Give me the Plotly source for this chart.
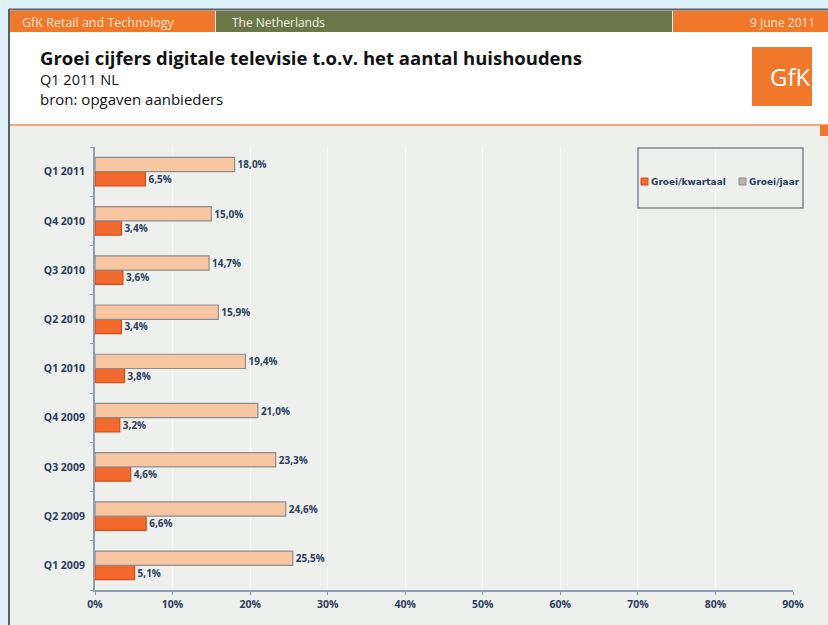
import plotly.graph_objects as go

# Quarterly vs. yearly growth of digital TV (share of households)
quarters = ["Q1 2009", "Q2 2009", "Q3 2009", "Q4 2009",
            "Q1 2010", "Q2 2010", "Q3 2010", "Q4 2010", "Q1 2011"]
groei_kwartaal = [5.1, 6.6, 4.6, 3.2, 3.8, 3.4, 3.6, 3.4, 6.5]
groei_jaar = [25.5, 24.6, 23.3, 21.0, 19.4, 15.9, 14.7, 15.0, 18.0]
x_ticks = [0, 10, 20, 30, 40, 50, 60, 70, 80, 90]
x_tick_labels = [f"<b>{v}%</b>" for v in x_ticks]

W, H = 828, 625
NAVY = "#2b3d5b"
ORANGE = "#f0782a"
DARK_BAR = "#f26a2c"
LIGHT_BAR = "#f9c6a3"
FONT = "Open Sans"
LEGEND_FONT = "DejaVu Sans"


def px_x(v):
    return v / W


def px_y(v):
    return 1 - v / H


fig = go.Figure()
fig.add_trace(go.Bar(
    y=quarters, x=groei_kwartaal, orientation="h", name="Groei/kwartaal",
    marker=dict(color=DARK_BAR, line=dict(color="#d84a18", width=1.2)),
    texttemplate="<b>%{x:.1f}%</b>", textposition="outside",
    textfont=dict(family=FONT, size=10, color=NAVY), cliponaxis=False,
))
fig.add_trace(go.Bar(
    y=quarters, x=groei_jaar, orientation="h", name="Groei/jaar",
    marker=dict(color=LIGHT_BAR, line=dict(color="#8c8c8c", width=1.2)),
    texttemplate="<b>%{x:.1f}%</b>", textposition="outside",
    textfont=dict(family=FONT, size=10, color=NAVY), cliponaxis=False,
))

shapes = [
    # page backgrounds
    dict(type="rect", xref="paper", yref="paper", x0=0, x1=1, y0=0, y1=1,
         fillcolor="#dff1f9", line_width=0, layer="below"),
    dict(type="rect", xref="paper", yref="paper", x0=px_x(9), x1=1,
         y0=0, y1=px_y(9), fillcolor="#eef0ee", line_width=0, layer="below"),
    dict(type="rect", xref="paper", yref="paper", x0=px_x(9), x1=1,
         y0=px_y(124), y1=px_y(32), fillcolor="#ffffff", line_width=0, layer="below"),
    # top bar
    dict(type="rect", xref="paper", yref="paper", x0=px_x(9), x1=px_x(215),
         y0=px_y(32), y1=px_y(11), fillcolor=ORANGE, line_width=0, layer="below"),
    dict(type="rect", xref="paper", yref="paper", x0=px_x(216), x1=px_x(672),
         y0=px_y(32), y1=px_y(11), fillcolor="#6b7748", line_width=0, layer="below"),
    dict(type="rect", xref="paper", yref="paper", x0=px_x(673), x1=1,
         y0=px_y(32), y1=px_y(11), fillcolor=ORANGE, line_width=0, layer="below"),
    # frame lines
    dict(type="line", xref="paper", yref="paper", x0=px_x(9), x1=1,
         y0=px_y(9.5), y1=px_y(9.5), line=dict(color="#5a5f64", width=2)),
    dict(type="line", xref="paper", yref="paper", x0=px_x(9), x1=px_x(9),
         y0=0, y1=px_y(9), line=dict(color="#5a5f64", width=2)),
    # header separator
    dict(type="line", xref="paper", yref="paper", x0=px_x(10), x1=1,
         y0=px_y(125), y1=px_y(125), line=dict(color="#f3a878", width=2)),
    dict(type="rect", xref="paper", yref="paper", x0=px_x(820), x1=1,
         y0=px_y(136), y1=px_y(125), fillcolor=ORANGE, line_width=0),
    # logo
    dict(type="rect", xref="paper", yref="paper", x0=px_x(752), x1=px_x(812),
         y0=px_y(106), y1=px_y(47), fillcolor=ORANGE, line_width=0),
    # legend box
    dict(type="rect", xref="paper", yref="paper", x0=px_x(638), x1=px_x(803),
         y0=px_y(208), y1=px_y(148), fillcolor="rgba(0,0,0,0)",
         line=dict(color="#7d878e", width=1.5)),
    # legend swatches
    dict(type="rect", xref="paper", yref="paper", x0=px_x(641), x1=px_x(648),
         y0=px_y(185), y1=px_y(178), fillcolor=DARK_BAR,
         line=dict(color="#d84a18", width=1)),
    dict(type="rect", xref="paper", yref="paper", x0=px_x(739), x1=px_x(746),
         y0=px_y(185), y1=px_y(178), fillcolor="#b9b3ad",
         line=dict(color="#8c8c8c", width=1)),
]

annotations = [
    dict(text="GfK Retail and Technology", x=px_x(20), y=px_y(22),
         font=dict(family="Liberation Sans Narrow, Open Sans", size=12.5, color="#fbe3cf")),
    dict(text="The Netherlands", x=px_x(230), y=px_y(22),
         font=dict(family="Liberation Sans Narrow, Open Sans", size=12, color="#eef0e4")),
    dict(text="9 June 2011", x=px_x(817), y=px_y(22), xanchor="right",
         font=dict(family="Liberation Sans Narrow, Open Sans", size=12, color="#fbe3cf")),
    dict(text="<b>Groei cijfers digitale televisie t.o.v. het aantal huishoudens</b>",
         x=px_x(38), y=px_y(58),
         font=dict(family=FONT, size=18.5, color="#111111")),
    dict(text="Q1 2011 NL", x=px_x(38), y=px_y(79),
         font=dict(family=FONT, size=14.5, color="#111111")),
    dict(text="bron: opgaven aanbieders", x=px_x(38), y=px_y(99),
         font=dict(family=FONT, size=15, color="#111111")),
    dict(text="GfK", x=px_x(813), y=px_y(76), xanchor="right",
         font=dict(family=FONT, size=24, color="#ffffff")),
    dict(text="<b>Groei/kwartaal</b>", x=px_x(649), y=px_y(181.5),
         font=dict(family=LEGEND_FONT, size=9, color=NAVY)),
    dict(text="<b>Groei/jaar</b>", x=px_x(747), y=px_y(181.5),
         font=dict(family=LEGEND_FONT, size=9, color=NAVY)),
]
for a in annotations:
    a.setdefault("xanchor", "left")
    a.update(xref="paper", yref="paper", yanchor="middle", showarrow=False)

fig.update_layout(
    width=W, height=H,
    margin=dict(l=0, r=0, t=0, b=0),
    paper_bgcolor="#eef0ee",
    plot_bgcolor="rgba(0,0,0,0)",
    barmode="group", bargap=0.42, bargroupgap=0,
    separators=",.",
    showlegend=False,
    shapes=shapes,
    annotations=annotations,
    xaxis=dict(
        domain=[px_x(95), px_x(793)], range=[0, 90], automargin=False,
        tickvals=x_ticks, ticktext=x_tick_labels,
        tickfont=dict(family=FONT, size=10.5, color=NAVY),
        showgrid=True, gridcolor="#f6f8f6", gridwidth=1,
        showline=True, linecolor="#8e9db0", linewidth=2,
        ticks="outside", ticklen=3, tickcolor="#8e9db0",
        zeroline=False, fixedrange=True,
    ),
    yaxis=dict(
        domain=[px_y(590), px_y(147)], range=[-0.5, 8.5], automargin=False,
        type="category", categoryorder="array", categoryarray=quarters,
        tickfont=dict(family=FONT, size=10.5, color=NAVY),
        tickprefix="<b>", ticksuffix="</b>",
        showline=True, linecolor="#8e9db0", linewidth=2,
        ticks="outside", tickson="boundaries", ticklen=3, tickcolor="#8e9db0",
        ticklabelstandoff=6,
        showgrid=False, fixedrange=True,
    ),
)

fig.write_html("out.html")
